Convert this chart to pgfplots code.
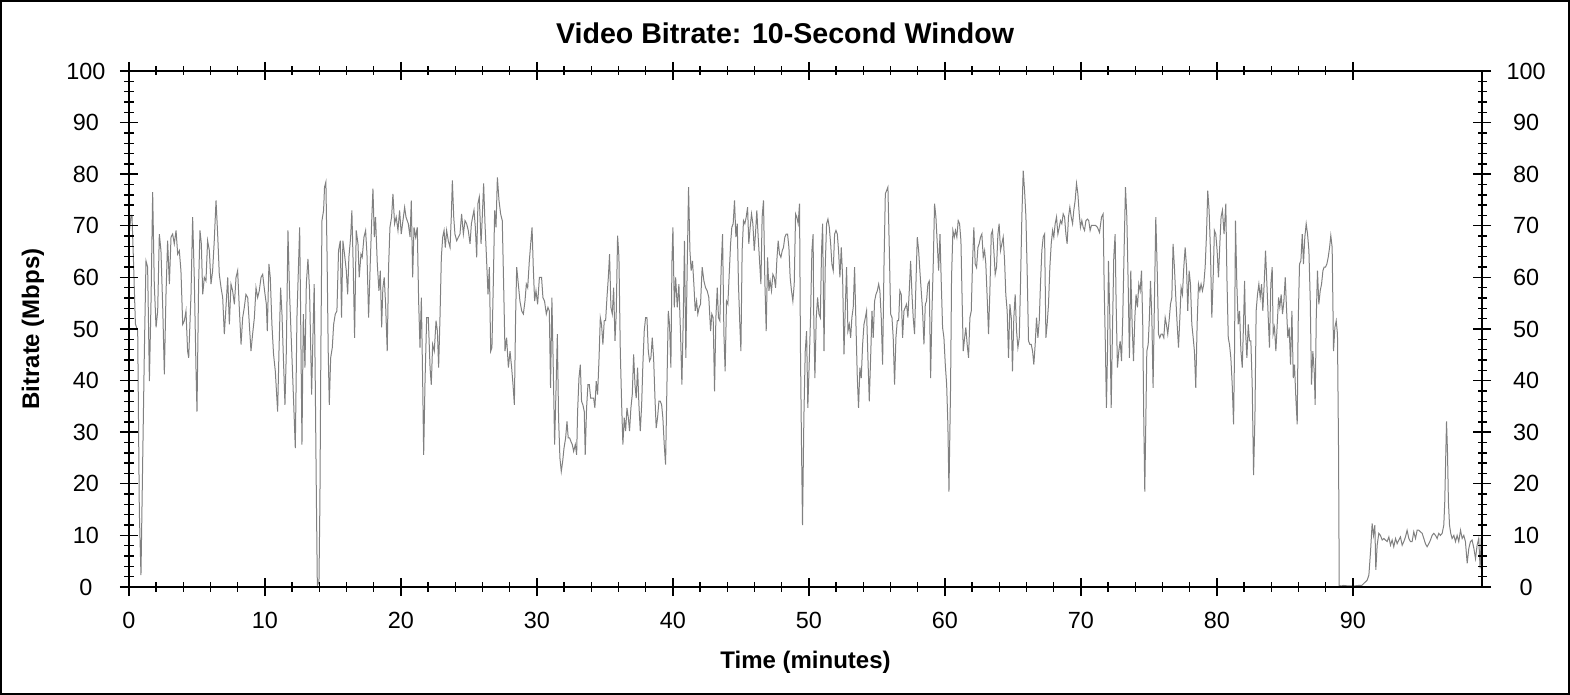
\documentclass[border=0pt]{standalone}
\usepackage{fontspec}
\setmainfont{Liberation Sans}
\usepackage{pgfplots}
\pgfplotsset{compat=1.18}
\usepackage{pgfplotstable}
\definecolor{linegray}{RGB}{128,128,128}
\pgfplotstableread{
t v
0.00 68
0.15 72
0.22 72
0.32 64
0.47 51
0.64 49.6
0.76 14.6
0.88 2.3
1.01 25
1.13 45.7
1.25 63.2
1.37 62
1.50 39.9
1.62 55.4
1.74 76.5
1.86 58.7
1.99 50.3
2.11 53.5
2.23 68.4
2.35 65.2
2.48 54.2
2.60 41.2
2.72 56.7
2.84 67.1
2.97 58.7
3.09 67.8
3.21 68.4
3.33 66.5
3.46 69.1
3.58 64.5
3.70 65.2
3.82 61.3
3.95 50.9
4.07 51.6
4.19 53.5
4.31 45.7
4.39 44.4
4.56 56.7
4.68 71.7
4.80 60
4.93 41.8
5.00 34
5.12 58.7
5.22 69.1
5.32 66.5
5.42 56.7
5.54 60
5.66 59.3
5.78 67.1
5.91 65.2
6.03 58.7
6.15 61.3
6.27 67.1
6.40 74.9
6.52 68.4
6.64 60.6
6.77 58
6.89 56.1
7.01 49
7.13 54.2
7.26 60
7.38 50.9
7.50 58.7
7.62 57.4
7.75 54.8
7.87 60
7.99 61.3
8.11 54.2
8.24 47
8.36 52.2
8.48 54.2
8.60 56.7
8.73 56.1
8.85 50.9
8.97 45.7
9.09 49
9.22 52.2
9.34 58
9.46 56.1
9.58 57.4
9.71 60
9.83 60.6
9.97 57.4
10.10 54.8
10.17 49.6
10.29 62.6
10.39 60
10.51 50.9
10.63 45.1
10.76 41.8
10.93 34
11.03 45.7
11.15 58
11.25 52.9
11.37 43.1
11.47 35.3
11.57 45.7
11.69 69.1
11.81 56.7
11.93 48.3
12.06 39.2
12.23 26.9
12.35 52.2
12.55 69.7
12.62 53.5
12.72 27.6
12.82 52.9
12.94 42.5
13.04 58.7
13.16 63.6
13.28 57.4
13.43 37.3
13.53 49
13.62 58.7
13.70 39.2
13.77 19.8
13.85 0.3
13.97 1
14.04 16.5
14.11 45.7
14.19 71
14.31 73
14.38 77.5
14.48 78.5
14.56 65.2
14.65 45.7
14.73 35.3
14.83 44.4
14.95 46.4
15.05 50.9
15.17 52.9
15.29 53.5
15.41 65.2
15.54 67.1
15.63 52.2
15.73 67.1
15.85 64.5
15.98 61.3
16.08 56.7
16.17 63.9
16.30 67.8
16.39 73
16.49 62
16.59 48.3
16.71 69.1
16.84 66.5
16.93 60
17.06 64.5
17.15 63.9
17.28 67.8
17.40 69.1
17.50 64.5
17.62 52.2
17.74 62.6
17.84 70.4
17.94 77.2
18.04 67.8
18.13 71.7
18.26 62.6
18.38 57.4
18.48 61.3
18.58 50.3
18.67 58
18.77 60
18.87 54.8
18.99 45.7
19.09 62
19.19 69.7
19.31 71.7
19.41 76.2
19.53 70.4
19.65 71.7
19.78 69.1
19.90 73
20.02 68.4
20.18 71.7
20.27 73.6
20.37 71.7
20.54 70.4
20.67 67.8
20.76 74.9
20.86 60
20.96 69.7
21.08 67.8
21.20 69.7
21.30 55.4
21.40 46.4
21.50 56.1
21.60 39.2
21.67 25.6
21.77 39.9
21.89 52.2
22.01 52.2
22.14 42.5
22.23 39.2
22.33 47
22.45 45.7
22.58 51.6
22.68 49.6
22.77 42.5
22.87 52.2
22.97 63.9
23.07 67.8
23.17 69.1
23.26 65.8
23.36 69.1
23.48 67.1
23.61 65.8
23.70 71.7
23.78 78.8
23.88 71.7
23.97 68.4
24.10 67.1
24.22 67.8
24.34 68.4
24.46 72.3
24.59 68.4
24.71 71
24.83 70.4
24.95 69.1
25.08 66.5
25.18 70.4
25.27 71.7
25.37 73
25.47 69.7
25.57 63.9
25.66 74.3
25.76 75.6
25.89 66.5
25.98 71.7
26.08 78.2
26.18 70.4
26.30 63.2
26.40 56.7
26.50 62
26.60 45.7
26.69 46.4
26.79 58.7
26.89 73
26.99 69.7
27.09 79.4
27.21 74.9
27.33 72.3
27.45 71
27.55 58.7
27.65 45.7
27.77 48.3
27.90 42.5
28.02 45.7
28.14 42.5
28.24 39.2
28.34 35.3
28.43 52.2
28.51 62
28.63 58.7
28.75 55.4
28.88 53.5
29.00 52.9
29.12 55.4
29.22 58.7
29.32 58
29.44 63.2
29.54 66.5
29.64 69.7
29.73 62
29.83 55.4
29.93 57.4
30.05 54.8
30.18 60
30.34 60
30.44 56.1
30.56 55.4
30.69 52.9
30.81 54.2
30.91 53.5
31.00 38.6
31.10 56.1
31.20 42.5
31.30 27.6
31.40 37.9
31.50 49
31.59 32.8
31.69 25
31.79 22.4
31.89 24.3
31.99 26.9
32.11 28.9
32.21 32.1
32.30 28.9
32.40 28.9
32.50 28.2
32.60 27.6
32.70 26.3
32.82 27.6
32.92 25.6
32.99 34
33.09 40.5
33.19 43.1
33.28 36
33.38 35.3
33.48 34
33.55 25.6
33.65 34.7
33.75 39.2
33.85 39.2
33.95 36.6
34.04 36.6
34.17 36.6
34.26 34.7
34.36 39.9
34.46 37.3
34.56 43.8
34.66 52.2
34.75 50.9
34.85 47
34.95 51.6
35.05 51.6
35.15 56.1
35.25 60
35.34 64.5
35.44 54.2
35.54 52.9
35.64 58
35.74 47.7
35.83 52.9
35.93 68.1
36.03 63.9
36.13 45.7
36.23 35.3
36.32 27.6
36.42 32.8
36.52 30.2
36.62 34.7
36.72 32.8
36.81 30.2
36.91 34.7
37.01 37.3
37.11 45.1
37.21 39.2
37.30 36.6
37.40 42.5
37.50 35.3
37.60 30.2
37.70 35.3
37.79 43.1
37.89 49.6
37.99 52.2
38.09 52.2
38.19 45.7
38.28 43.8
38.38 44.4
38.48 48.3
38.58 44.4
38.68 36.6
38.77 30.8
38.87 32.8
38.97 36
39.07 36
39.17 35.3
39.26 32.8
39.36 27.6
39.46 23.7
39.56 39.2
39.66 53.5
39.75 50.9
39.85 42.5
39.93 63.2
40.00 69.7
40.10 54.2
40.20 60
40.32 54.2
40.44 58.7
40.56 49
40.66 39.2
40.76 52.2
40.85 67.1
40.95 44.4
41.05 62
41.15 77.5
41.25 65.2
41.34 61.3
41.44 63.2
41.54 58.7
41.64 53.5
41.74 55.4
41.83 52.9
41.93 54.2
42.03 54.8
42.15 62
42.28 59.3
42.40 58
42.52 57.4
42.64 56.1
42.77 49.6
42.86 52.9
42.96 52.2
43.06 37.9
43.16 52.2
43.26 58
43.35 52.2
43.45 51.6
43.55 62
43.65 68.4
43.75 49
43.84 41.8
43.94 55.4
44.04 54.8
44.14 60.6
44.24 66.5
44.33 69.7
44.43 70.4
44.53 74.9
44.63 67.8
44.73 70.4
44.82 58.7
44.92 50.9
45.00 45.7
45.09 65.2
45.19 71
45.29 70.4
45.39 71.7
45.49 73.6
45.58 66.5
45.68 69.7
45.78 72.3
45.88 70.4
45.98 65.2
46.07 68.4
46.17 73
46.27 67.8
46.37 63.2
46.47 58.7
46.56 71.7
46.66 74.9
46.76 59.3
46.86 49.6
46.96 63.9
47.06 57.4
47.15 59.3
47.25 57.4
47.35 60.6
47.45 60
47.55 58
47.64 63.2
47.74 67.1
47.84 64.5
47.94 63.9
48.04 65.2
48.13 65.8
48.23 67.8
48.33 68.4
48.43 68.4
48.53 65.8
48.62 60
48.72 57.4
48.82 55.4
48.92 58.7
49.02 72.3
49.11 71.7
49.21 70.4
49.31 74.3
49.38 45.7
49.46 26.3
49.53 12
49.63 32.8
49.73 45.7
49.83 49.6
49.92 34.7
50.02 43.1
50.12 52.2
50.22 65.2
50.31 68.4
50.35 53.5
50.44 40.5
50.54 52.2
50.64 56.1
50.74 52.9
50.84 52.2
50.93 65.2
51.01 70.4
51.11 45.7
51.20 62
51.30 70.4
51.40 71.3
51.50 69.7
51.60 66.5
51.69 62.6
51.79 61.3
51.89 68.4
51.99 69.1
52.09 68.4
52.18 65.2
52.28 60
52.38 65.8
52.48 60
52.58 45.1
52.67 53.5
52.77 62
52.87 49.6
52.97 50.9
53.07 48.3
53.16 52.2
53.26 54.2
53.36 62
53.46 50.9
53.56 40.5
53.65 34.7
53.75 42.5
53.85 40.5
53.95 47
54.05 50.9
54.15 52.2
54.24 53.5
54.34 44.4
54.44 36
54.54 44.4
54.64 53.5
54.73 48.3
54.83 55.4
54.93 56.7
55.03 57.4
55.13 58.7
55.22 57.4
55.32 52.2
55.42 43.1
55.52 62
55.62 76.2
55.71 76.8
55.81 77.5
55.91 65.8
56.01 52.9
56.11 52.2
56.20 48.3
56.30 39.2
56.40 48.3
56.50 51.6
56.60 51.6
56.69 57.4
56.79 56.7
56.89 48.3
56.99 53.5
57.09 54.2
57.18 54.8
57.28 52.2
57.38 57.4
57.48 63.2
57.58 56.7
57.67 52.2
57.77 49
57.87 58.7
57.97 67.8
58.07 65.2
58.16 61.3
58.26 57.4
58.36 53.5
58.46 47
58.56 54.8
58.65 55.4
58.75 58.7
58.85 59.3
58.95 40.5
59.05 53.5
59.15 63.2
59.24 74.3
59.34 71.7
59.44 66.5
59.54 61.3
59.64 68.4
59.73 59.3
59.83 50.3
59.93 48.3
60.03 43.1
60.13 39.2
60.22 31.5
60.30 18.5
60.42 39.2
60.49 60
60.59 69.1
60.69 67.8
60.78 69.1
60.88 67.8
60.98 71
61.08 70.4
61.18 67.1
61.27 55.4
61.35 45.7
61.45 48.3
61.54 50.3
61.64 47
61.74 44.4
61.84 52.2
61.94 53.5
62.03 62.6
62.13 69.7
62.23 62.6
62.33 61.9
62.43 65.8
62.52 66.5
62.62 67.8
62.72 68.4
62.82 63.9
62.92 65.2
63.01 62.6
63.11 56.1
63.21 49
63.31 57.4
63.41 68.4
63.50 69.1
63.60 65.2
63.70 60.6
63.80 62
63.90 68.4
63.99 70.4
64.09 65.2
64.19 66.5
64.29 67.8
64.39 63.2
64.48 56.7
64.58 53.5
64.68 44.4
64.78 54.8
64.88 52.2
64.97 41.8
65.07 52.2
65.17 56.7
65.27 49.6
65.37 46.4
65.47 48.3
65.56 58.7
65.66 71.7
65.76 80.7
65.86 76.8
65.96 71.7
66.05 61.3
66.15 47.7
66.25 47
66.35 47
66.45 45.7
66.54 43.1
66.64 47
66.74 52.2
66.84 48.3
66.94 51.6
67.03 58.7
67.13 65.2
67.23 67.8
67.33 68.4
67.43 48.3
67.52 50.9
67.62 54.8
67.72 62
67.82 66.5
67.92 69.1
68.01 67.8
68.11 70.4
68.21 71.7
68.31 68.4
68.41 69.7
68.50 71
68.60 70.4
68.70 72.3
68.80 71.7
68.90 68.4
68.99 66.5
69.09 71.7
69.19 73.6
69.29 71.7
69.39 70.4
69.48 73
69.58 74.9
69.68 78.2
69.78 76.2
69.88 72.3
69.97 69.7
70.07 71
70.17 69.7
70.27 69.1
70.37 71
70.49 71.3
70.58 71
70.68 69.1
70.78 70.1
70.93 70.1
71.07 70.1
71.22 69.7
71.37 68.7
71.52 71.7
71.64 72.3
71.71 58.7
71.81 45.7
71.88 34.7
71.96 45.7
72.03 63.2
72.13 52.2
72.23 34.7
72.32 49
72.42 63.9
72.52 68.4
72.59 55.4
72.69 42.5
72.79 45.7
72.89 47.7
72.99 43.8
73.08 52.2
73.18 65.2
73.28 77.5
73.38 71.7
73.48 58.7
73.57 44.4
73.67 61.3
73.77 50.9
73.87 43.8
73.97 52.2
74.06 56.7
74.16 54.2
74.26 58.7
74.36 57.4
74.46 61.3
74.55 50.9
74.63 31.5
74.70 18.5
74.78 32.8
74.85 45.7
74.95 47
75.04 52.2
75.12 59.3
75.22 52.2
75.31 38.6
75.41 55.4
75.51 71.7
75.61 62
75.71 49
75.80 48.3
75.90 49
76.00 49
76.10 48.3
76.20 52.2
76.29 50.9
76.39 49
76.49 51.6
76.59 54.8
76.69 56.1
76.78 66.5
76.88 62
76.98 56.1
77.08 50.9
77.18 46.4
77.28 52.2
77.37 58
77.47 56.7
77.57 62
77.67 65.8
77.77 62
77.86 53.5
77.96 61.3
78.06 58.7
78.16 50.9
78.26 48.3
78.35 45.7
78.45 38.6
78.55 50.9
78.65 58.7
78.75 57.4
78.84 58.7
78.94 57.4
79.04 58.7
79.14 62
79.24 68.4
79.33 76.8
79.43 73
79.53 65.2
79.63 52.2
79.73 60
79.82 69.1
79.92 68.4
80.02 65.2
80.12 60
80.22 66.5
80.31 71.7
80.41 73
80.53 68.4
80.66 74.3
80.74 60
80.84 48.3
80.93 47
81.03 44.4
81.13 39.2
81.23 31.5
81.30 45.7
81.37 71
81.47 58.7
81.57 50.9
81.67 53.5
81.77 45.7
81.87 42.5
81.96 50.9
82.04 59.3
82.11 49.6
82.21 44.4
82.31 50.9
82.40 47.7
82.50 47.7
82.60 39.2
82.70 21.7
82.80 32.8
82.89 53.5
82.99 56.7
83.09 58.7
83.19 56.1
83.29 58.7
83.38 53.5
83.48 58.7
83.58 65.2
83.68 58.7
83.78 52.2
83.87 46.4
83.97 58.7
84.07 62
84.14 49
84.24 50.3
84.34 45.7
84.44 50.9
84.54 56.1
84.63 54.2
84.73 56.7
84.83 52.9
84.93 55.4
85.03 60
85.12 54.2
85.22 48.3
85.32 50.3
85.42 43.1
85.52 53.5
85.62 40.5
85.71 43.1
85.81 36.6
85.91 31.5
85.98 50.9
86.08 62.6
86.18 63.2
86.28 68.4
86.37 62.6
86.47 67.8
86.57 70.4
86.67 68.4
86.77 65.2
86.87 55.4
86.96 39.2
87.06 45.7
87.16 41.8
87.23 35.3
87.31 52.2
87.40 61.3
87.50 54.8
87.60 57.4
87.70 58.7
87.80 61.3
87.89 62
87.99 62
88.09 62.6
88.19 63.9
88.29 65.8
88.38 68.1
88.48 65.8
88.58 45.7
88.68 50.3
88.78 51.6
88.87 49
88.95 26.3
89.00 0.3
89.14 0.2
89.32 0.3
89.68 0.2
90.05 0.2
90.42 0.3
90.66 0.3
90.81 0.7
91.05 1.3
91.18 2.3
91.30 6.8
91.42 12.3
91.52 10
91.62 12
91.69 3.3
91.79 8.1
91.91 10.4
92.03 10
92.16 9.1
92.28 9.4
92.40 9.1
92.52 8.8
92.65 9.7
92.77 8.1
92.89 9.1
93.01 7.8
93.14 9.4
93.26 8.4
93.38 9.1
93.50 9.7
93.63 8.1
93.75 8.8
93.87 9.7
93.99 11
94.12 9.4
94.24 8.8
94.36 8.8
94.48 10.7
94.61 9.4
94.73 11
94.85 11
94.97 10.7
95.10 10.4
95.22 9.4
95.34 8.4
95.46 7.8
95.59 8.4
95.71 9.1
95.83 10
95.95 10.4
96.08 10
96.20 9.4
96.32 10.4
96.44 10
96.57 10.4
96.69 12
96.76 16.5
96.84 26.3
96.89 32.1
96.96 26.3
97.03 16.5
97.11 12
97.20 10.4
97.30 9.4
97.43 10
97.55 8.8
97.67 10
97.79 8.8
97.92 11
98.04 9.4
98.16 10
98.28 8.8
98.41 4.6
98.53 7.5
98.65 8.8
98.77 9.1
98.90 7.5
99.02 5.5
99.14 8.1
99.26 9.4
99.36 3.6
99.44 9.4
99.50 10
}\bitrate

\begin{document}
\begin{tikzpicture}
\path[use as bounding box] (0,0) rectangle (785bp,347.5bp);
\draw[line width=0.9bp] (0.45bp,0.45bp) rectangle (784.55bp,347.05bp);
\node[font=\fontsize{14.3bp}{17bp}\selectfont\bfseries, anchor=center] at (392.5bp,331bp) {Video Bitrate: 10-Second Window};
\begin{axis}[
  at={(64.5bp,54bp)}, anchor=south west,
  scale only axis, width=676.5bp, height=258bp,
  xmin=0, xmax=99.5, ymin=0, ymax=100,
  xtick={0,10,...,90}, ytick={0,10,...,100},
  minor x tick num=4, minor y tick num=4,
  tick align=center, major tick length=9bp, minor tick length=4.5bp,
  axis line style={line width=0.7bp},
  every tick/.style={black, line width=0.7bp},
  /pgf/number format/assume math mode=true,
  ticklabel style={font=\fontsize{11.7bp}{14bp}\selectfont},
  yticklabel style={anchor=center, xshift=-17bp},
  xticklabel style={anchor=center, yshift=-12bp},
  xlabel={Time (minutes)},
  ylabel={Bitrate (Mbps)},
  label style={font=\fontsize{12bp}{14bp}\selectfont\bfseries},
  xlabel style={at={(axis description cs:0.5,-0.145)}, anchor=center},
  ylabel style={at={(axis description cs:-0.071,0.5)}, anchor=center},
  axis on top,
]
\addplot[linegray, line width=0.5bp, no marks] table[x=t, y=v] {\bitrate};
\end{axis}
\begin{axis}[
  at={(64.5bp,54bp)}, anchor=south west,
  scale only axis, width=676.5bp, height=258bp,
  xmin=0, xmax=99.5, ymin=0, ymax=100,
  xtick=\empty, ytick={0,10,...,100},
  axis line style={draw=none}, major tick length=0pt,
  yticklabel pos=right,
  /pgf/number format/assume math mode=true,
  ticklabel style={font=\fontsize{11.7bp}{14bp}\selectfont},
  yticklabel style={anchor=center, xshift=22bp},
]
\end{axis}
\end{tikzpicture}
\end{document}
